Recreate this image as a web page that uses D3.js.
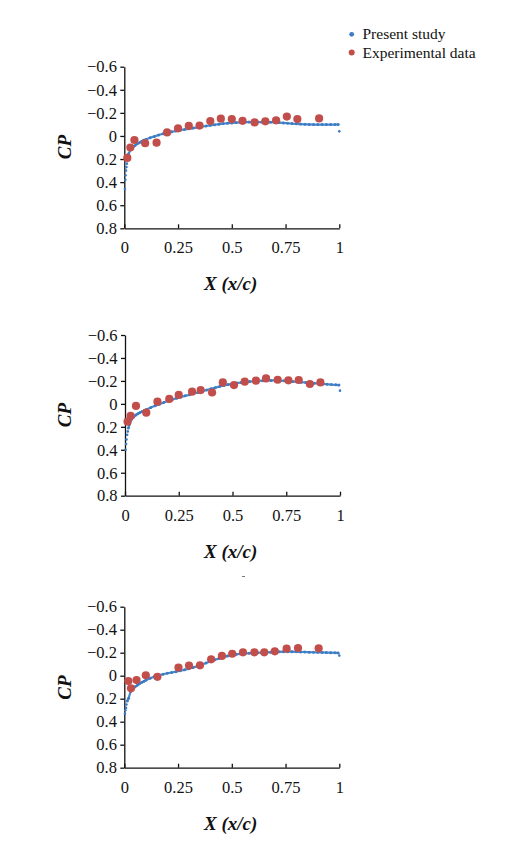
<!DOCTYPE html>
<html>
<head>
<meta charset="utf-8">
<script src="https://cdn.jsdelivr.net/npm/d3@7"></script>
<style>
  html, body { margin: 0; padding: 0; background: #ffffff; }
  svg { display: block; }
</style>
</head>
<body>
<svg id="chart" width="516" height="850"></svg>
<script>
// ---------------- DATA ----------------
const seriesNames = ["Present study", "Experimental data"];
const cpTicks = [-0.6, -0.4, -0.2, 0, 0.2, 0.4, 0.6, 0.8];
const cpTickLabels = ["\u22120.6", "\u22120.4", "\u22120.2", "0", "0.2", "0.4", "0.6", "0.8"];
const xTicks = [0, 0.25, 0.5, 0.75, 1];
const xTickLabels = ["0", "0.25", "0.5", "0.75", "1"];

// Panel 1
const p1LeadX = [0.003, 0.005, 0.006, 0.008, 0.010, 0.012, 1.0];
const p1LeadCp = [0.46, 0.38, 0.34, 0.30, 0.27, 0.24, -0.04];
const p1SimX = [0.015,0.02,0.03,0.04,0.05,0.06,0.07,0.08,0.09,0.10,0.12,0.14,0.16,0.18,0.20,0.22,0.24,0.26,0.28,0.30,0.32,0.34,0.36,0.38,0.40,0.42,0.44,0.46,0.48,0.50,0.52,0.54,0.56,0.58,0.60,0.62,0.64,0.66,0.68,0.70,0.72,0.74,0.76,0.78,0.80,0.82,0.84,0.86,0.88,0.90,0.92,0.94,0.96,0.98,0.995];
const p1SimCp = [0.20,0.155,0.118,0.097,0.082,0.068,0.058,0.048,0.038,0.030,0.016,0.004,-0.008,-0.019,-0.028,-0.036,-0.043,-0.050,-0.056,-0.062,-0.068,-0.074,-0.080,-0.086,-0.092,-0.097,-0.102,-0.107,-0.110,-0.113,-0.116,-0.118,-0.119,-0.120,-0.120,-0.120,-0.120,-0.120,-0.119,-0.118,-0.116,-0.113,-0.110,-0.107,-0.105,-0.103,-0.101,-0.100,-0.099,-0.099,-0.099,-0.099,-0.099,-0.099,-0.100];
const p1ExpX = [0.014,0.028,0.047,0.097,0.150,0.199,0.250,0.300,0.350,0.400,0.449,0.500,0.550,0.606,0.656,0.706,0.756,0.805,0.906];
const p1ExpCp = [0.19,0.10,0.035,0.063,0.058,-0.031,-0.066,-0.087,-0.090,-0.129,-0.150,-0.146,-0.131,-0.117,-0.127,-0.135,-0.168,-0.146,-0.152];

// Panel 2
const p2LeadX = [0.003, 0.005, 0.007, 0.010, 0.013, 1.0];
const p2LeadCp = [0.40, 0.35, 0.31, 0.27, 0.24, -0.115];
const p2SimX = [0.016,0.02,0.03,0.04,0.05,0.06,0.07,0.08,0.09,0.10,0.12,0.14,0.16,0.18,0.20,0.22,0.24,0.26,0.28,0.30,0.32,0.34,0.36,0.38,0.40,0.42,0.44,0.46,0.48,0.50,0.52,0.54,0.56,0.58,0.60,0.62,0.64,0.66,0.68,0.70,0.72,0.74,0.76,0.78,0.80,0.82,0.84,0.86,0.88,0.90,0.92,0.94,0.96,0.98,0.995];
const p2SimCp = [0.21,0.18,0.135,0.115,0.098,0.086,0.076,0.066,0.057,0.048,0.032,0.017,0.003,-0.012,-0.026,-0.038,-0.050,-0.060,-0.070,-0.080,-0.090,-0.100,-0.110,-0.121,-0.131,-0.141,-0.151,-0.160,-0.168,-0.175,-0.181,-0.186,-0.190,-0.194,-0.197,-0.200,-0.202,-0.203,-0.204,-0.204,-0.203,-0.201,-0.198,-0.195,-0.192,-0.189,-0.186,-0.183,-0.180,-0.177,-0.174,-0.171,-0.168,-0.166,-0.164];
const p2ExpX = [0.012,0.026,0.051,0.099,0.151,0.206,0.250,0.312,0.352,0.405,0.455,0.507,0.557,0.609,0.656,0.710,0.760,0.808,0.860,0.909];
const p2ExpCp = [0.155,0.105,0.018,0.077,-0.019,-0.043,-0.078,-0.106,-0.120,-0.099,-0.187,-0.164,-0.193,-0.202,-0.222,-0.210,-0.205,-0.208,-0.173,-0.187];

// Panel 3
const p3LeadX = [0.003, 0.005, 0.008, 0.010, 1.0];
const p3LeadCp = [0.33, 0.30, 0.28, 0.25, -0.175];
const p3SimX = [0.014,0.02,0.03,0.04,0.05,0.06,0.07,0.08,0.09,0.10,0.12,0.14,0.16,0.18,0.20,0.22,0.24,0.26,0.28,0.30,0.32,0.34,0.36,0.38,0.40,0.42,0.44,0.46,0.48,0.50,0.52,0.54,0.56,0.58,0.60,0.62,0.64,0.66,0.68,0.70,0.72,0.74,0.76,0.78,0.80,0.82,0.84,0.86,0.88,0.90,0.92,0.94,0.96,0.98,0.995];
const p3SimCp = [0.22,0.195,0.135,0.113,0.097,0.084,0.071,0.060,0.050,0.040,0.022,0.008,-0.004,-0.013,-0.021,-0.028,-0.035,-0.043,-0.051,-0.061,-0.071,-0.083,-0.096,-0.110,-0.124,-0.138,-0.150,-0.162,-0.172,-0.180,-0.186,-0.190,-0.193,-0.195,-0.197,-0.199,-0.201,-0.203,-0.205,-0.207,-0.208,-0.209,-0.209,-0.209,-0.208,-0.207,-0.206,-0.205,-0.204,-0.203,-0.202,-0.201,-0.200,-0.199,-0.198];
const p3ExpX = [0.019,0.031,0.057,0.100,0.154,0.252,0.301,0.352,0.404,0.454,0.502,0.552,0.605,0.651,0.700,0.755,0.808,0.904];
const p3ExpCp = [0.046,0.11,0.038,-0.004,0.010,-0.071,-0.088,-0.090,-0.142,-0.172,-0.191,-0.203,-0.203,-0.203,-0.212,-0.235,-0.241,-0.238];

// ---------------- STYLE / LAYOUT ----------------
const BLUE = "#3b7cc4";
const RED = "#c24e4b";
const SERIF = "'Liberation Serif', 'Times New Roman', serif";
const TICK_FS = 16.5;

const panels = [
  { left: 124.3, right: 339.3, top: 66.7, bottom: 228.3, cpY: 147, xLabelY: 289.5,
    lead: [p1LeadX, p1LeadCp], sim: [p1SimX, p1SimCp], exp: [p1ExpX, p1ExpCp] },
  { left: 125, right: 340, top: 335, bottom: 495.7, cpY: 415, xLabelY: 557.5,
    lead: [p2LeadX, p2LeadCp], sim: [p2SimX, p2SimCp], exp: [p2ExpX, p2ExpCp] },
  { left: 124.3, right: 339.3, top: 606.7, bottom: 767.7, cpY: 687.5, xLabelY: 829.5,
    lead: [p3LeadX, p3LeadCp], sim: [p3SimX, p3SimCp], exp: [p3ExpX, p3ExpCp] }
];

const svg = d3.select("#chart");
const zip = (xs, ys) => xs.map((v, i) => [v, ys[i]]);

panels.forEach(p => {
  const x = d3.scaleLinear().domain([0, 1]).range([p.left, p.right]);
  const y = d3.scaleLinear().domain([-0.6, 0.8]).range([p.top, p.bottom]);
  const g = svg.append("g");

  // Y axis
  const ya = g.append("g").attr("transform", `translate(${p.left},0)`)
    .call(d3.axisLeft(y).tickValues(cpTicks).tickFormat((d, i) => cpTickLabels[i])
      .tickSize(4).tickSizeOuter(0).tickPadding(3.4));
  // X axis
  const xa = g.append("g").attr("transform", `translate(0,${p.bottom})`)
    .call(d3.axisBottom(x).tickValues(xTicks).tickFormat((d, i) => xTickLabels[i])
      .tickSize(-4).tickSizeOuter(0).tickPadding(13.3));
  [ya, xa].forEach(a => {
    a.selectAll("path, line").attr("stroke", "#111").attr("stroke-width", 1.3);
    a.selectAll("text").attr("font-family", SERIF).attr("font-size", TICK_FS).attr("fill", "#111");
  });

  // Present study: curve band + dots
  const sim = zip(p.sim[0], p.sim[1]);
  g.append("path")
    .datum(sim)
    .attr("d", d3.line().x(d => x(d[0])).y(d => y(d[1])))
    .attr("fill", "none").attr("stroke", BLUE).attr("stroke-width", 2.2).attr("opacity", 0.9);
  g.append("g").selectAll("circle").data(sim).join("circle")
    .attr("cx", d => x(d[0])).attr("cy", d => y(d[1])).attr("r", 1.5).attr("fill", BLUE);
  g.append("g").selectAll("circle").data(zip(p.lead[0], p.lead[1])).join("circle")
    .attr("cx", d => x(d[0])).attr("cy", d => y(d[1])).attr("r", 1.3).attr("fill", BLUE);

  // Experimental data
  g.append("g").selectAll("circle").data(zip(p.exp[0], p.exp[1])).join("circle")
    .attr("cx", d => x(d[0])).attr("cy", d => y(d[1])).attr("r", 4.1).attr("fill", RED);

  // Axis titles
  g.append("text")
    .attr("transform", `translate(71,${p.cpY}) rotate(-90)`)
    .attr("text-anchor", "middle")
    .attr("font-family", SERIF).attr("font-size", 19).attr("font-weight", "bold").attr("font-style", "italic")
    .attr("fill", "#111")
    .text("CP");
  g.append("text")
    .attr("x", 230.7).attr("y", p.xLabelY)
    .attr("text-anchor", "middle")
    .attr("font-family", SERIF).attr("font-size", 19).attr("font-weight", "bold").attr("font-style", "italic")
    .attr("fill", "#111")
    .text("X (x/c)");
});

// small stray mark under panel 2
svg.append("line").attr("x1", 242).attr("x2", 245).attr("y1", 576.5).attr("y2", 576.5)
  .attr("stroke", "#777").attr("stroke-width", 1);

// Legend
const legend = svg.append("g");
const legendColors = [BLUE, RED];
const legendR = [2.4, 3.0];
seriesNames.forEach((name, i) => {
  const cy = 34.3 + i * 18.3;
  legend.append("circle").attr("cx", 351.7).attr("cy", cy).attr("r", legendR[i]).attr("fill", legendColors[i]);
  legend.append("text").attr("x", 362.5).attr("y", cy + 5)
    .attr("font-family", SERIF).attr("font-size", 15.5).attr("fill", "#111")
    .text(name);
});
</script>
</body>
</html>
